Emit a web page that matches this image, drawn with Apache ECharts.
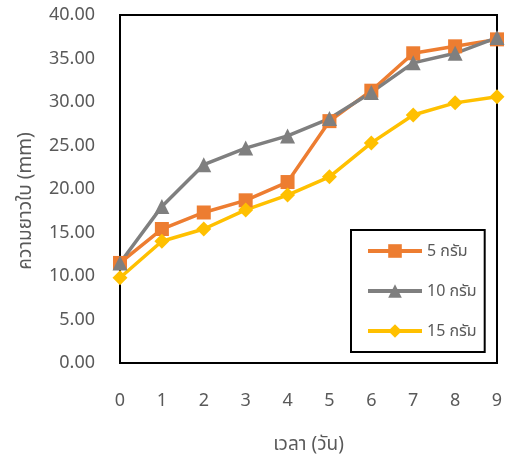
<!DOCTYPE html>
<html>
<head>
<meta charset="utf-8">
<script src="https://cdn.jsdelivr.net/npm/echarts@6/dist/echarts.min.js"></script>
<style>
  html, body { margin: 0; padding: 0; background: #fff; }
  #chart { width: 507px; height: 461px; }
</style>
</head>
<body>
<div id="chart"></div>
<script>
// Leaf length (mm) over days for three treatment amounts
const days = ['0', '1', '2', '3', '4', '5', '6', '7', '8', '9'];
const seriesNames = ['5 กรัม', '10 กรัม', '15 กรัม'];
const g5 = [11.5, 15.4, 17.3, 18.7, 20.8, 27.8, 31.3, 35.6, 36.4, 37.2];
const g10 = [11.5, 18.0, 22.8, 24.7, 26.1, 28.1, 31.1, 34.5, 35.6, 37.4];
const g15 = [9.8, 14.0, 15.4, 17.6, 19.3, 21.4, 25.3, 28.5, 29.9, 30.6];

const FONT = '"Noto Sans", "Noto Sans Thai", sans-serif';
const TXT = '#595959';

const chart = echarts.init(document.getElementById('chart'));

function line(name, data, color, symbol, size) {
  return {
    name: name,
    type: 'line',
    data: data,
    symbol: symbol,
    symbolSize: size,
    showAllSymbol: true,
    lineStyle: { color: color, width: 3.5 },
    itemStyle: { color: color },
    emphasis: { disabled: true }
  };
}

chart.setOption({
  animation: false,
  grid: {
    left: 120, top: 15, right: 10, bottom: 98,
    show: true, borderColor: '#000', borderWidth: 2
  },
  legend: {
    orient: 'vertical',
    left: 351, top: 230,
    padding: [13, 8, 13, 15],
    itemGap: 24,
    itemWidth: 54, itemHeight: 17,
    lineStyle: { width: 4 },
    borderColor: '#000', borderWidth: 2,
    backgroundColor: '#fff',
    textStyle: { fontFamily: FONT, fontSize: 16, color: TXT },
    data: seriesNames
  },
  xAxis: {
    type: 'category',
    data: days,
    boundaryGap: false,
    name: 'เวลา (วัน)',
    nameLocation: 'middle',
    nameGap: 72,
    nameTextStyle: { fontFamily: FONT, fontSize: 19, color: TXT },
    axisLine: { lineStyle: { color: '#000', width: 2 } },
    axisTick: { show: false },
    axisLabel: { fontFamily: FONT, fontSize: 18, color: TXT, margin: 29 },
    splitLine: { show: false }
  },
  yAxis: {
    type: 'value',
    min: 0, max: 40, interval: 5,
    name: 'ความยาวใบ (mm)',
    nameLocation: 'middle',
    nameGap: 85,
    nameTextStyle: { fontFamily: FONT, fontSize: 19, color: TXT, padding: [0, 24, 0, 0] },
    axisLine: { show: true, lineStyle: { color: '#000', width: 2 } },
    axisTick: { show: false },
    axisLabel: {
      fontFamily: FONT, fontSize: 18, color: TXT, margin: 25,
      formatter: v => v.toFixed(2)
    },
    splitLine: { show: false }
  },
  series: [
    line(seriesNames[0], g5, '#ED7D31', 'rect', 14),
    line(seriesNames[1], g10, '#7F7F7F', 'triangle', 15),
    line(seriesNames[2], g15, '#FFC000', 'diamond', 15)
  ]
});
</script>
</body>
</html>
